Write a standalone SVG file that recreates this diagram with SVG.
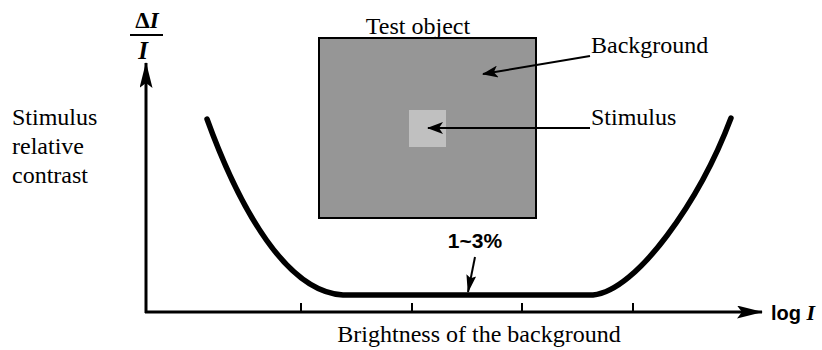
<svg xmlns="http://www.w3.org/2000/svg" width="822" height="350" viewBox="0 0 822 350">
<defs>
<style>
.t{font-family:"Liberation Serif","Times New Roman",serif;font-size:24px;fill:#000}
.ax{stroke:#000;stroke-width:3;fill:none}
.ld{stroke:#000;stroke-width:2;fill:none}
.tk{stroke:#000;stroke-width:2}
</style>
<marker id="ah" viewBox="0 0 16 12" refX="15" refY="6" markerWidth="16" markerHeight="12" markerUnits="userSpaceOnUse" orient="auto">
<path d="M0,0 L16,6 L0,12 L4,6 Z" fill="#000"/>
</marker>
<marker id="ah2" viewBox="0 0 18 10" refX="17" refY="5" markerWidth="18" markerHeight="10" markerUnits="userSpaceOnUse" orient="auto">
<path d="M0,0 L18,5 L0,10 L3,5 Z" fill="#000"/>
</marker>
<marker id="axh" viewBox="0 0 26 13" refX="25" refY="6.5" markerWidth="26" markerHeight="13" markerUnits="userSpaceOnUse" orient="auto">
<path d="M0,0 L26,6.5 L0,13 L5,6.5 Z" fill="#000"/>
</marker>
</defs>
<rect width="822" height="350" fill="#fff"/>
<g id="test-object">
<rect x="319" y="38" width="217" height="180" fill="#969696" stroke="#000" stroke-width="2"/>
<text class="t" x="418" y="34" text-anchor="middle">Test object</text>
</g>
<g id="stimulus-square">
<rect x="409" y="110" width="37" height="37" fill="#c0c0c0"/>
</g>
<g id="label-background"><text class="t" x="591" y="53">Background</text></g>
<g id="label-stimulus"><text class="t" x="591" y="125">Stimulus</text></g>
<g id="y-label">
<text class="t" x="12" y="125">Stimulus</text>
<text class="t" x="12" y="154">relative</text>
<text class="t" x="12" y="183">contrast</text>
</g>
<g id="y-quantity" font-family="'Liberation Serif','Times New Roman',serif" font-size="23" font-weight="bold">
<text x="147" y="28" text-anchor="middle">Δ<tspan font-style="italic">I</tspan></text>
<line x1="130" y1="35" x2="163" y2="35" stroke="#000" stroke-width="2"/>
<text x="143" y="59" text-anchor="middle" font-style="italic" font-size="25">I</text>
</g>
<g id="x-label">
<text class="t" x="479" y="342" text-anchor="middle">Brightness of the background</text>
<text x="771" y="320" font-family="'Liberation Sans',Arial,sans-serif" font-size="20" font-weight="bold">log <tspan font-family="'Liberation Serif','Times New Roman',serif" font-style="italic" font-size="22">I</tspan></text>
</g>
<g id="curve">
<path d="M207,119 C240,210 287,292 343,295 L593,295 C637,291 700,200 731,118" stroke="#000" stroke-width="5.5" fill="none" stroke-linecap="round"/>
</g>
<g id="label-pct">
<text x="475" y="248" text-anchor="middle" font-family="'Liberation Sans',Arial,sans-serif" font-size="21" font-weight="bold">1~3%</text>
</g>
<g id="connectors">
<line class="ax" x1="146" y1="313" x2="146" y2="63" marker-end="url(#axh)"/>
<line class="ax" x1="145" y1="312" x2="762" y2="312" marker-end="url(#axh)"/>
<line class="tk" x1="301" y1="312" x2="301" y2="303"/>
<line class="tk" x1="412" y1="312" x2="412" y2="303"/>
<line class="tk" x1="522" y1="312" x2="522" y2="303"/>
<line class="tk" x1="633" y1="312" x2="633" y2="303"/>
<line class="ld" x1="590" y1="56" x2="483" y2="74" marker-end="url(#ah)"/>
<line class="ld" x1="590" y1="128" x2="428" y2="128" marker-end="url(#ah)"/>
<line class="ld" x1="475" y1="257" x2="468" y2="292" marker-end="url(#ah2)"/>
</g>
</svg>
